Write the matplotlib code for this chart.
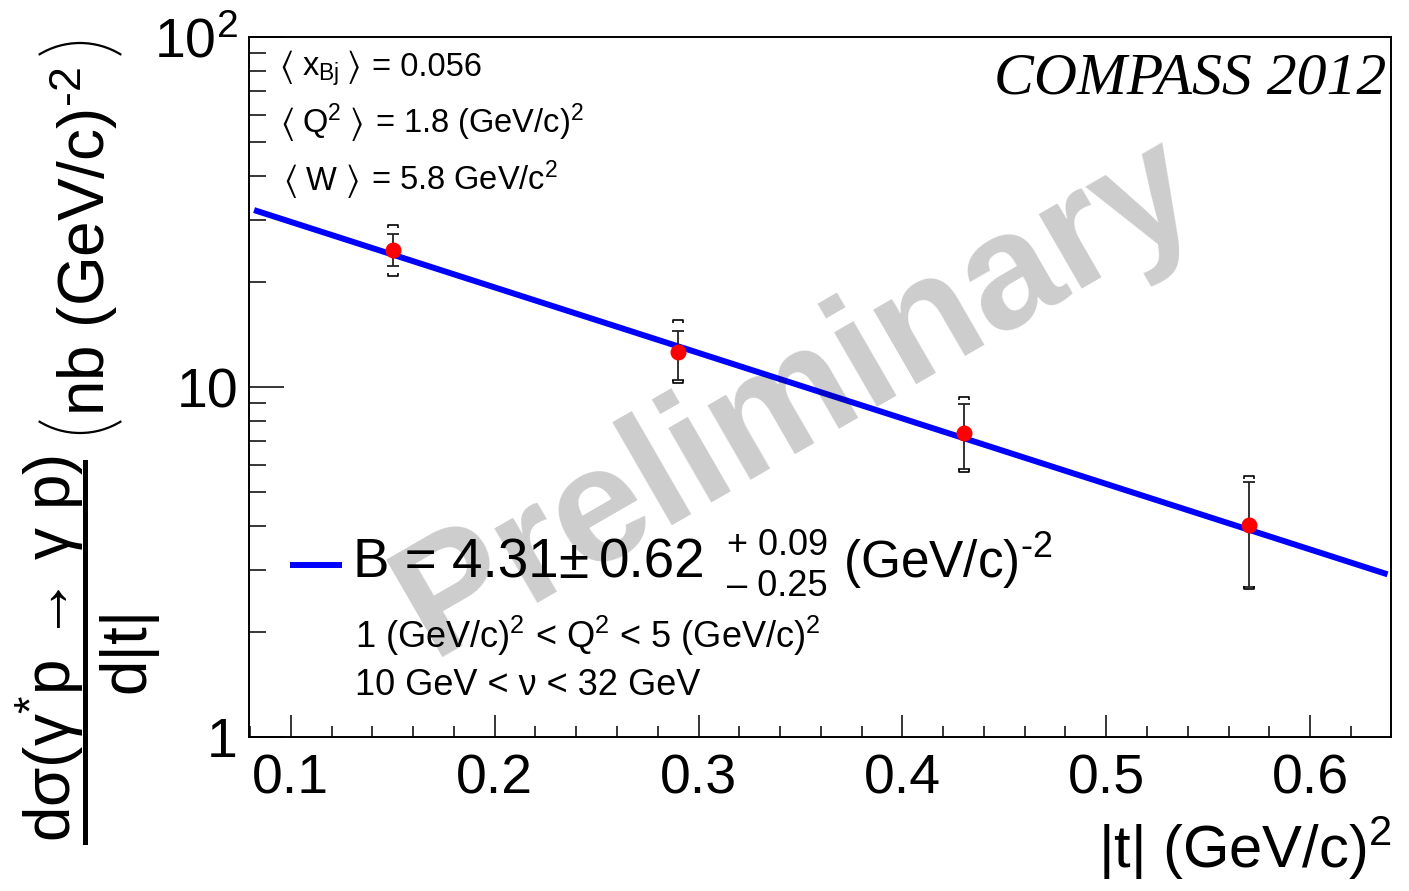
import numpy as np
import matplotlib
matplotlib.use('Agg')
import matplotlib.pyplot as plt
from matplotlib.path import Path
from matplotlib.patches import Arc
from matplotlib.lines import Line2D
from matplotlib.transforms import IdentityTransform
from matplotlib.ticker import (MultipleLocator, FixedLocator, FixedFormatter,
                               LogLocator, NullFormatter)

plt.rcParams['font.family'] = ['Liberation Sans', 'DejaVu Sans']
plt.rcParams['mathtext.fontset'] = 'custom'
plt.rcParams['mathtext.rm'] = 'Liberation Sans'
plt.rcParams['mathtext.it'] = 'Liberation Sans:italic'
plt.rcParams['mathtext.bf'] = 'Liberation Sans:bold'
plt.rcParams['mathtext.fallback'] = 'stixsans'

# ---------------- data ----------------
t_vals = [0.15, 0.29, 0.43, 0.57]
xsec = [24.6, 12.6, 7.39, 4.03]
stat_hi = [27.4, 14.45, 8.94, 5.35]
stat_lo = [22.2, 10.5, 5.83, 2.68]
syst_hi = [29.0, 15.5, 9.36, 5.57]
syst_lo = [20.8, 10.3, 5.72, 2.65]
fit_A = 45.6
fit_B = 4.31
fit_range = [0.082, 0.638]
x_ticks = [0.1, 0.2, 0.3, 0.4, 0.5, 0.6]
x_tick_labels = ['0.1', '0.2', '0.3', '0.4', '0.5', '0.6']
y_ticks = [1, 10, 100]
y_tick_labels = ['1', '10', '$10^{2}$']

W, H = 1409, 891
fig = plt.figure(figsize=(W / 100, H / 100), dpi=100)
ax = fig.add_axes([249 / W, 1 - 737 / H, (1391 - 249) / W, (737 - 37) / H])
renderer = fig.canvas.get_renderer()


def fx(x):
    return x / W


def fy(y):
    return 1 - y / H


def seq(x_px, y_px, pieces, fontsize):
    """Place text pieces left to right; pieces = (text, gap_px, kwargs)."""
    x = x_px
    for s, gap, kw in pieces:
        kw = dict(kw)
        fs = kw.pop('fs', fontsize)
        t = fig.text(fx(x), fy(y_px), s, fontsize=fs, ha='left',
                     va='baseline', **kw)
        bb = t.get_window_extent(renderer)
        x = bb.x1 + gap


# fit line
tt = np.linspace(fit_range[0], fit_range[1], 300)
ax.plot(tt, fit_A * np.exp(-fit_B * tt), color='#0000ff', lw=4.3,
        solid_capstyle='butt', zorder=3)

# stat error bars
xs = np.array(xsec)
yerr = [xs - np.array(stat_lo), np.array(stat_hi) - xs]
ax.errorbar(t_vals, xsec, yerr=yerr, fmt='none', ecolor='#222222',
            elinewidth=1.3, capsize=4, capthick=1.3, zorder=4)

# systematic brackets
top_br = Path([(-1, -0.6), (-1, 0), (1, 0), (1, -0.6)],
              [Path.MOVETO, Path.LINETO, Path.LINETO, Path.LINETO])
bot_br = Path([(-1, 0.6), (-1, 0), (1, 0), (1, 0.6)],
              [Path.MOVETO, Path.LINETO, Path.LINETO, Path.LINETO])
ax.plot(t_vals, syst_hi, ls='none', marker=top_br, ms=6.5, mec='black',
        mfc='none', mew=1.2, zorder=4)
ax.plot(t_vals, syst_lo, ls='none', marker=bot_br, ms=6.5, mec='black',
        mfc='none', mew=1.2, zorder=4)

# points
ax.plot(t_vals, xsec, 'o', color='#ff0000', ms=10.5, mec='#ff0000', zorder=5)

# axes
ax.set_yscale('log')
ax.set_xlim(0.0795, 0.6397)
ax.set_ylim(1, 100)
ax.xaxis.set_major_locator(FixedLocator(x_ticks))
ax.xaxis.set_major_formatter(FixedFormatter(x_tick_labels))
ax.xaxis.set_minor_locator(MultipleLocator(0.02))
ax.yaxis.set_major_locator(FixedLocator(y_ticks))
ax.yaxis.set_major_formatter(FixedFormatter(y_tick_labels))
ax.yaxis.set_minor_locator(LogLocator(base=10, subs=np.arange(2, 10)))
ax.yaxis.set_minor_formatter(NullFormatter())
ax.tick_params(axis='x', which='major', direction='in', length=15.8,
               width=1.1, labelsize=40, pad=12, top=False)
ax.tick_params(axis='x', which='minor', direction='in', length=8,
               width=1.1, top=False)
ax.tick_params(axis='y', which='major', direction='in', length=25,
               width=1.1, labelsize=40, pad=8, right=False)
ax.tick_params(axis='y', which='minor', direction='in', length=12.5,
               width=1.1, right=False)
for s in ax.spines.values():
    s.set_linewidth(1.4)

# x-axis title
fig.text(fx(1392), fy(868), '|t| (GeV/c)$^{2}$', fontsize=43,
         ha='right', va='baseline')

# y-axis title (rotated pieces)
fig.text(fx(50), fy(648), 'd\u03c3(\u03b3$^{*}$p \u2192 \u03b3 p)', fontsize=46,
         rotation=90, ha='center', va='center')
fig.text(fx(127), fy(650), 'd|t|', fontsize=46, rotation=90,
         ha='center', va='center')
fig.add_artist(Line2D([fx(85), fx(85)], [fy(462), fy(842)],
                      transform=fig.transFigure, color='black', lw=3.6))
fig.text(fx(84), fy(242), 'nb (GeV/c)$^{\\text{-}2}$', fontsize=46, rotation=90,
         ha='center', va='center')
R = 78
fig.add_artist(Arc((80, H - (433 - R)), 2 * R, 2 * R, theta1=238, theta2=302,
                   transform=IdentityTransform(), color='black', lw=1.6))
fig.add_artist(Arc((80, H - (43 + R)), 2 * R, 2 * R, theta1=58, theta2=122,
                   transform=IdentityTransform(), color='black', lw=1.6))

# info texts top-left
ang = dict(family=['STIXGeneral', 'DejaVu Sans', 'Noto Sans CJK JP'], fs=26)
seq(279, 76, [('\u27e8', 9, ang), ('x$_{\\mathrm{Bj}}$', 7, {}),
              ('\u27e9', 11, ang), ('= 0.056', 0, {})], 23.5)
seq(280, 133, [('\u27e8', 8, ang), ('Q$^{2}$', 8, {}),
               ('\u27e9', 11, ang), ('= 1.8 (GeV/c)$^{2}$', 0, {})], 23.5)
seq(283, 190, [('\u27e8', 8, ang), ('W', 9, {}),
               ('\u27e9', 11, ang), ('= 5.8 GeV/c$^{2}$', 0, {})], 23.5)

# COMPASS label
fig.text(fx(1386), fy(93), 'COMPASS 2012', fontsize=43, family='Liberation Serif',
         style='italic', ha='right', va='baseline')

# legend
fig.add_artist(Line2D([fx(290), fx(342)], [fy(565), fy(565)],
                      transform=fig.transFigure, color='#0000ff', lw=4.3,
                      solid_capstyle='butt'))
seq(353, 578, [('B = 4.31', 0, {}), ('\u00b1', 10, {}), ('0.62', 0, {})], 39.5)
fig.text(fx(727), fy(555), '+ 0.09', fontsize=26, ha='left', va='baseline')
fig.text(fx(727), fy(596), '\u2013 0.25', fontsize=26, ha='left', va='baseline')
fig.text(fx(843), fy(578), '(GeV/c)$^{\\text{-}2}$', fontsize=37, ha='left',
         va='baseline')
fig.text(fx(355), fy(648), '1 (GeV/c)$^{2}$ < Q$^{2}$ < 5 (GeV/c)$^{2}$',
         fontsize=26, ha='left', va='baseline')
fig.text(fx(355), fy(695), '10 GeV < \u03bd < 32 GeV', fontsize=26,
         ha='left', va='baseline')

# watermark
fig.text(fx(797), fy(398), 'Preliminary', fontsize=118, fontweight='bold',
         color='black', alpha=0.2, rotation=30, rotation_mode='anchor',
         ha='center', va='center', zorder=10)

fig.savefig('out.png', dpi=100)
